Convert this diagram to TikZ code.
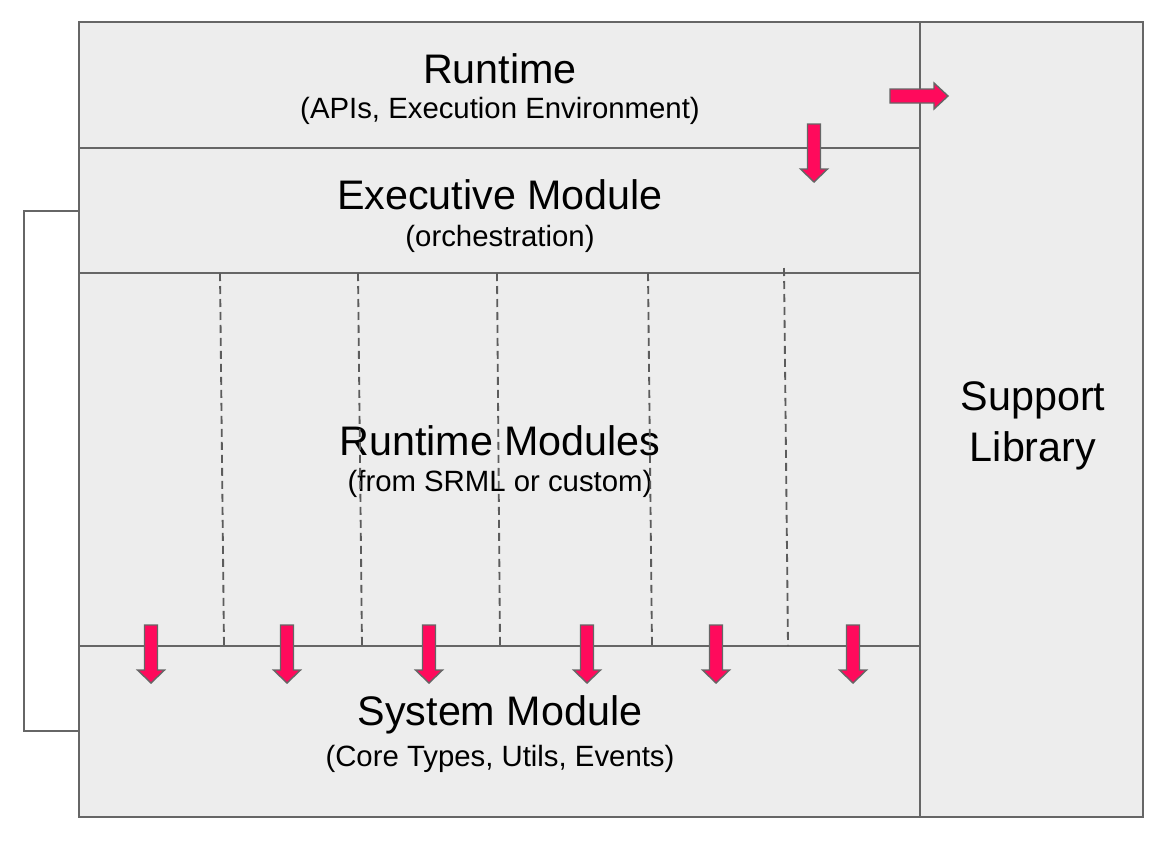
\documentclass[tikz,border=0pt]{standalone}
\usepackage{fontspec}
\setmainfont{Liberation Sans}
\definecolor{boxgray}{HTML}{EDEDED}
\definecolor{linegray}{HTML}{666666}
\definecolor{hotpink}{HTML}{FF0A5C}
\tikzset{
  layer/.style = {draw=linegray, fill=boxgray, line width=1.1pt},
  title/.style = {font=\fontsize{23.5}{27}\selectfont},
  sub/.style = {font=\fontsize{16.7}{20}\selectfont},
  split/.style = {draw=linegray!90!black, line width=1.05pt, dash pattern=on 0.16cm off 0.1cm},
  hook/.style = {draw=linegray, line width=1.1pt},
  pinkarrow/.style = {fill=hotpink, draw=linegray, line width=0.8pt, line join=miter},
  pics/dnarrow/.style = {code={
    \draw[pinkarrow] (-6.5,0) -- (6.5,0) -- (6.5,45) -- (13.5,45) -- (0,58)
      -- (-13.5,45) -- (-6.5,45) -- cycle;}},
  pics/rtarrow/.style = {code={
    \draw[pinkarrow] (0,-7) -- (44,-7) -- (44,-13) -- (58,0) -- (44,13)
      -- (44,7) -- (0,7) -- cycle;}}
}
\begin{document}
\begin{tikzpicture}[x=0.02cm, y=-0.02cm]
	\useasboundingbox (0,0) rectangle (1165,842);

	% layers
	\draw[layer] (920,22) rectangle (1143,817);
	\draw[layer] (79,22) rectangle (920,148);
	\draw[layer] (79,148) rectangle (920,273);
	\draw[layer] (79,273) rectangle (920,646);
	\draw[layer] (79,646) rectangle (920,817);

	\node[title] (rt) at (500,69) {Runtime};
	\node[sub] (rtsub) at (500,111) {(APIs, Execution Environment)};
	\node[title] (ex) at (500,195) {Executive Module};
	\node[sub] (exsub) at (500,239) {(orchestration)};
	\node[title] (rm) at (500,441) {Runtime Modules};
	\node[sub] (rmsub) at (500,484) {(from SRML or custom)};
	\node[title] (sm) at (500,715) {System Module};
	\node[sub] (smsub) at (500,759) {(Core Types, Utils, Events)};
	\node[title, align=center] (sl) at (1033,426) {Support\\[2pt]Library};

	% module separators
	\foreach \a/\t/\b in {220/273/224, 358/273/362, 497/273/500, 648/273/652, 784/268/788}
		\draw[split] (\a,\t) -- (\b,646);

	% bracket between executive and system
	\coordinate (exl) at (79,211);
	\coordinate (sml) at (79,731);
	\draw[hook] (exl) -- ++(-55,0) |- (sml);

	% arrows
	\pic at (814,124) {dnarrow};
	\pic at (890,96) {rtarrow};
	\foreach \x in {151, 287, 429, 587, 716, 853}
		\pic at (\x,625) {dnarrow};
\end{tikzpicture}
\end{document}
